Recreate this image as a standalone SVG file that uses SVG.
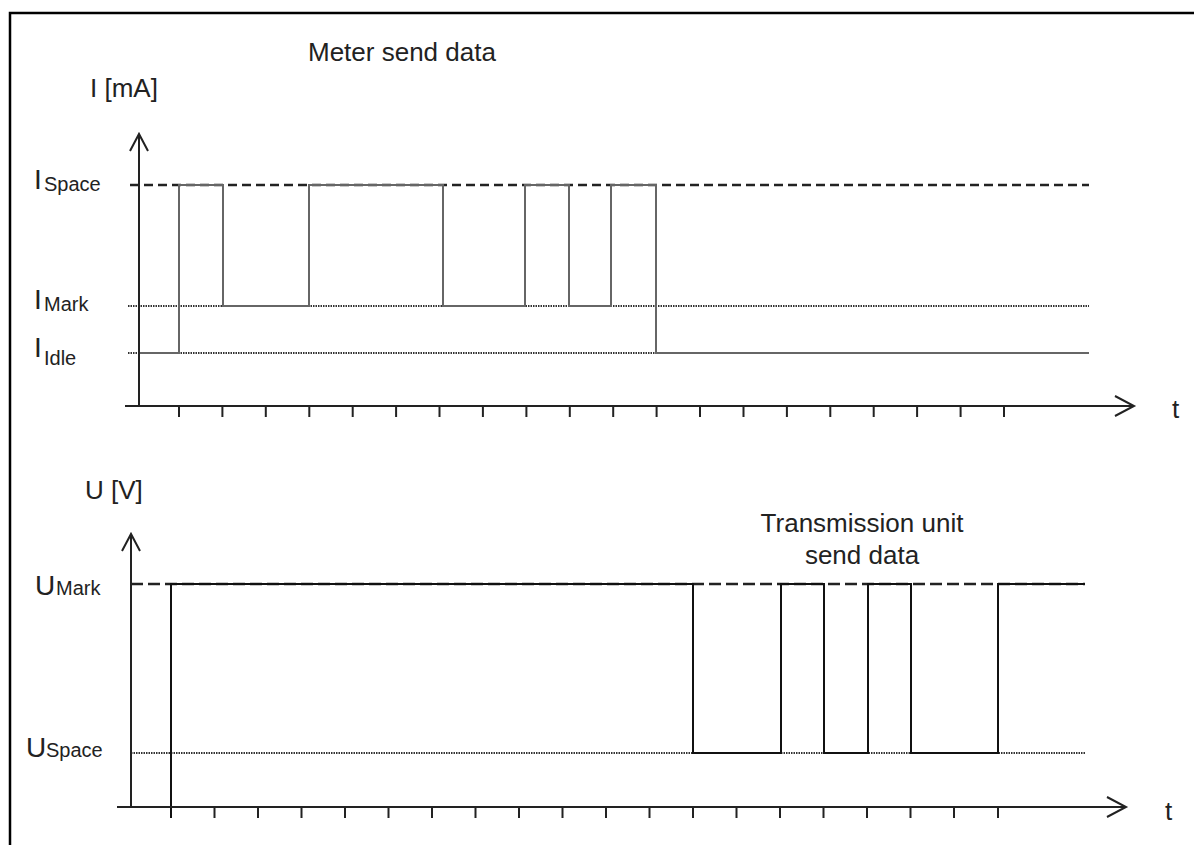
<svg xmlns="http://www.w3.org/2000/svg" width="1194" height="845" viewBox="0 0 1194 845">
<style>
  text { font-family: "Liberation Sans", Arial, sans-serif; fill: #222; }
  .lbl { font-size: 26px; }
  .big { font-size: 28px; }
  .sub { font-size: 20px; }
  .axis { stroke: #222; stroke-width: 2; fill: none; }
  .tick { stroke: #222; stroke-width: 2; }
  .dash { stroke: #222; stroke-width: 2.5; stroke-dasharray: 9 5; fill: none; }
  .dot { stroke: #333; stroke-width: 2.2; stroke-dasharray: 1.5 1; fill: none; }
  .sigA { stroke: #666; stroke-width: 2; fill: none; }
  .sigB { stroke: #111; stroke-width: 2; fill: none; }
  .head { stroke: #222; stroke-width: 2; fill: none; }
</style>
<rect x="0" y="0" width="1194" height="845" fill="#fff"/>
<path d="M10 845 V13 H1194" stroke="#000" stroke-width="2.5" fill="none"/>

<g id="top-chart">
  <text class="lbl" x="308" y="61">Meter send data</text>
  <text class="lbl" x="90" y="97">I [mA]</text>
  <text class="lbl" x="1172" y="418">t</text>
  <g id="label-ispace"><text class="big" x="34" y="189">I</text><text class="sub" x="44" y="191">Space</text></g>
  <g id="label-imark"><text class="big" x="34" y="309">I</text><text class="sub" x="44" y="311">Mark</text></g>
  <g id="label-iidle"><text class="big" x="34" y="357">I</text><text class="sub" x="44" y="365">Idle</text></g>
  <line class="dash" x1="130" y1="185" x2="1089" y2="185"/>
  <line class="dot" x1="128" y1="306" x2="1089" y2="306"/>
  <line class="dot" x1="128" y1="353" x2="1089" y2="353"/>
  <path class="sigA" d="M139 353 H179 V185 H223 V306 H309 V185 H443 V306 H525 V185 H569 V306 H611 V185 H656 V353 H1089"/>
</g>

<g id="bottom-chart">
  <text class="lbl" x="85" y="499">U [V]</text>
  <text class="lbl" x="1165" y="820">t</text>
  <text class="lbl" x="862" y="532" text-anchor="middle">Transmission unit</text>
  <text class="lbl" x="862" y="564" text-anchor="middle">send data</text>
  <g id="label-umark"><text class="big" x="35" y="595">U</text><text class="sub" x="56" y="595">Mark</text></g>
  <g id="label-uspace"><text class="big" x="26" y="757">U</text><text class="sub" x="46" y="757">Space</text></g>
  <line class="dash" x1="131" y1="584" x2="1085" y2="584" style="stroke-dasharray:12 5"/>
  <line class="dot" x1="131" y1="753" x2="1085" y2="753"/>
  <path class="sigB" d="M171 818 V584 H693 V753 H781 V584 H824 V753 H868 V584 H911 V753 H998 V584 H1085"/>
</g>

<g id="connectors">
  <path class="axis" d="M139 135 V406 M125 406 H1133"/>
  <path class="head" d="M130 151 L139 134 L148 151 M1115 396 L1134 406 L1115 416"/>
  <path class="axis" d="M131 535 V807 M117 807 H1125"/>
  <path class="head" d="M122 551 L131 534 L140 551 M1107 797 L1126 807 L1107 817"/>
  <path class="tick" d="M179 406 v11 M222.4 406 v11 M265.8 406 v11 M309.3 406 v11 M352.7 406 v11 M396.1 406 v11 M439.5 406 v11 M482.9 406 v11 M526.4 406 v11 M569.8 406 v11 M613.2 406 v11 M656.6 406 v11 M700 406 v11 M743.5 406 v11 M786.9 406 v11 M830.3 406 v11 M873.7 406 v11 M917.1 406 v11 M960.6 406 v11 M1004 406 v11"/>
  <path class="tick" d="M214.5 807 v11 M258 807 v11 M301.5 807 v11 M345 807 v11 M388.5 807 v11 M432 807 v11 M475.5 807 v11 M519 807 v11 M562.5 807 v11 M606 807 v11 M649.5 807 v11 M693 807 v11 M736.5 807 v11 M780 807 v11 M823.5 807 v11 M867 807 v11 M910.5 807 v11 M954 807 v11 M998 807 v11"/>
</g>
</svg>
